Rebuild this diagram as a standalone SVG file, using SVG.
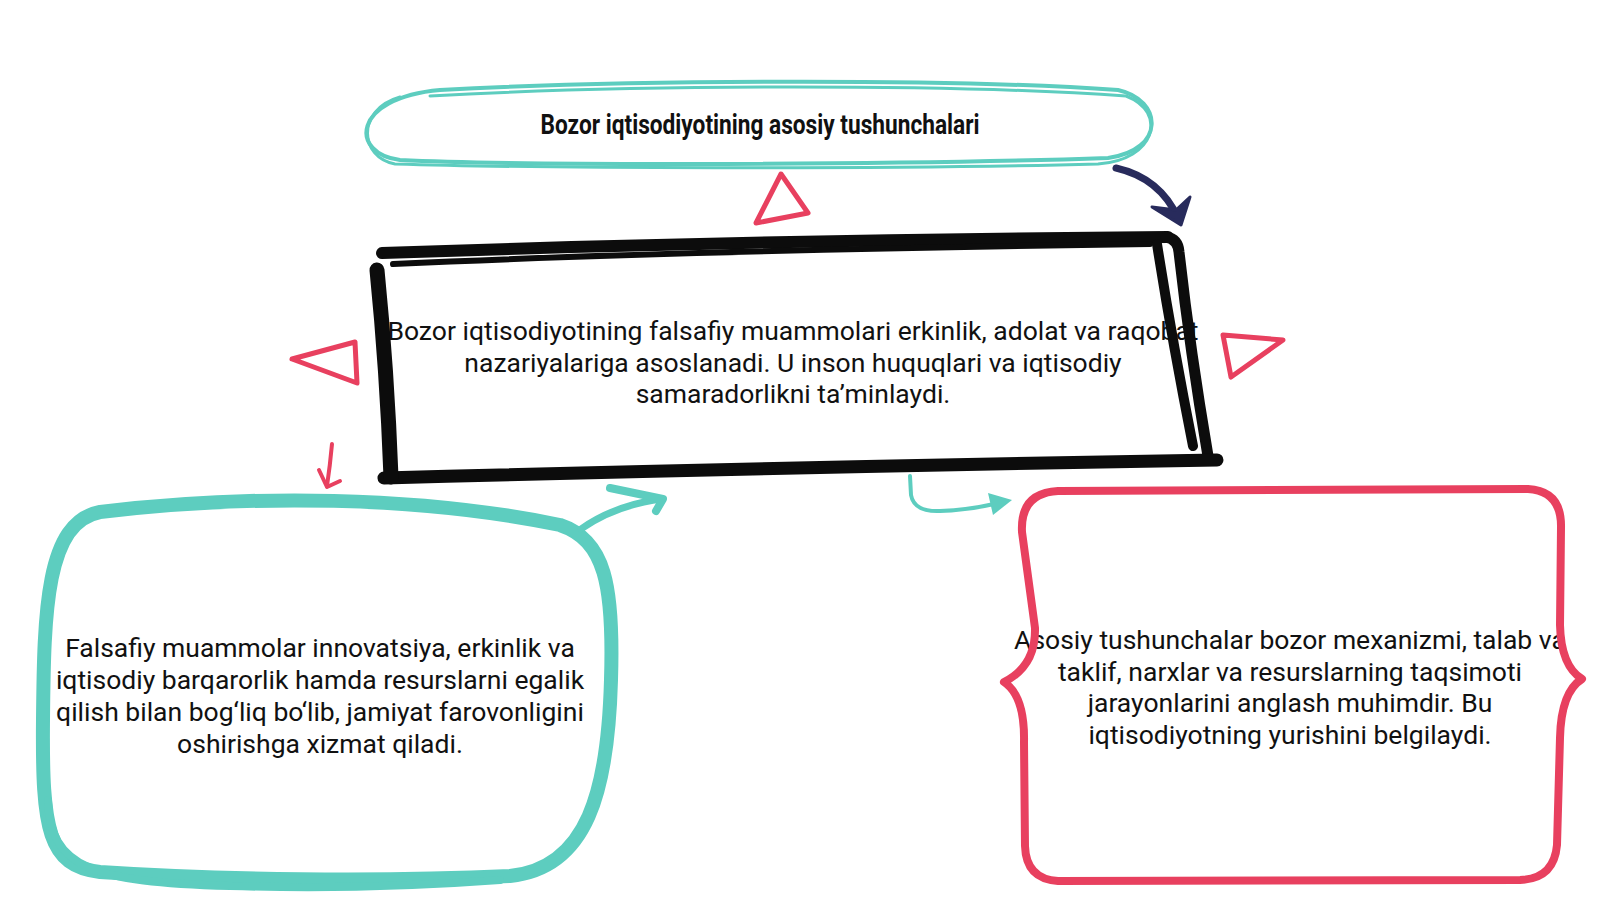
<svg xmlns="http://www.w3.org/2000/svg" width="1600" height="900" viewBox="0 0 1600 900">
<style>
.body{font-family:Roboto,"Liberation Sans",sans-serif;font-size:26.5px;fill:#111;text-anchor:middle}
.title{font-family:Roboto,"Liberation Sans",sans-serif;font-size:28px;font-weight:700;fill:#111;text-anchor:middle}
.teal{fill:none;stroke:#5dcdbf;stroke-linecap:round;stroke-linejoin:round}
.red{fill:none;stroke:#e8405f;stroke-linecap:round;stroke-linejoin:round}
.blk{fill:none;stroke:#0c0c0c;stroke-linecap:round;stroke-linejoin:round}
.navy{fill:none;stroke:#282b5c;stroke-linecap:round;stroke-linejoin:round}
</style>
<rect width="1600" height="900" fill="#ffffff"/>
<g id="title">
<path class="teal" stroke-width="4" d="M 440 90 C 620 80 950 78 1118 90 C 1163 100 1166 150 1108 158 C 910 165 520 166 400 160 C 350 154 350 98 440 90 Z"/>
<path class="teal" stroke-width="3" d="M 430 96 C 640 84 960 84 1126 96 C 1168 112 1156 160 1098 164 C 890 170 520 168 395 164 C 360 158 355 110 400 97"/>
<text class="title" x="760" y="134" textLength="439" lengthAdjust="spacingAndGlyphs">Bozor iqtisodiyotining asosiy tushunchalari</text>
</g>
<g id="center">
<text class="body" x="793" y="340">Bozor iqtisodiyotining falsafiy muammolari erkinlik, adolat va raqobat</text>
<text class="body" x="793" y="372">nazariyalariga asoslanadi. U inson huquqlari va iqtisodiy</text>
<text class="body" x="793" y="403">samaradorlikni ta’minlaydi.</text>
<path class="blk" stroke-width="12" d="M 382 253 Q 760 240 1168 237"/>
<path class="blk" stroke-width="6" d="M 393 264 Q 700 250 1150 244"/>
<path class="blk" stroke-width="11" d="M 1166 237 Q 1178 239 1179 252 Q 1190 350 1208 456"/>
<path class="blk" stroke-width="10" d="M 1157 244 Q 1172 340 1193 446"/>
<path class="blk" stroke-width="13" d="M 384 478 Q 800 467 1217 460"/>
<path class="blk" stroke-width="15" d="M 377 270 Q 387 370 391 477"/>
</g>
<g id="left">
<text class="body" x="320" y="657">Falsafiy muammolar innovatsiya, erkinlik va</text>
<text class="body" x="320" y="689">iqtisodiy barqarorlik hamda resurslarni egalik</text>
<text class="body" x="320" y="721">qilish bilan bog‘liq bo‘lib, jamiyat farovonligini</text>
<text class="body" x="320" y="753">oshirishga xizmat qiladi.</text>
<path class="teal" stroke-width="14" d="M 100 512 C 250 494 420 496 560 525 C 605 540 614 585 611 680 C 608 790 588 868 510 876 C 380 882 220 880 100 872 C 48 866 42 830 43 720 C 44 610 46 522 100 512 Z"/>
<path class="teal" stroke-width="8" d="M 48 800 C 50 868 92 882 230 886 C 330 889 420 886 500 880"/>
</g>
<g id="right">
<text class="body" x="1290" y="649">Asosiy tushunchalar bozor mexanizmi, talab va</text>
<text class="body" x="1290" y="681">taklif, narxlar va resurslarning taqsimoti</text>
<text class="body" x="1290" y="712">jarayonlarini anglash muhimdir. Bu</text>
<text class="body" x="1290" y="744">iqtisodiyotning yurishini belgilaydi.</text>
<path class="red" stroke-width="8" d="M 1058 491 L 1528 489 Q 1562 491 1561 528 L 1560 625 Q 1561 666 1582 679 Q 1561 692 1560 738 L 1557 845 Q 1554 879 1520 880 L 1058 881 Q 1026 879 1025 846 L 1024 742 Q 1025 696 1004 682 Q 1036 666 1035 628 L 1022 532 Q 1020 493 1058 491 Z"/>
</g>
<g id="connectors">
<polygon class="red" stroke-width="5" points="781,174 808,213 756,223"/>
<polygon class="red" stroke-width="5" points="292,359 355,342 357,383"/>
<polygon class="red" stroke-width="5" points="1223,335 1283,340 1231,377"/>
<path class="navy" stroke-width="7" d="M 1116 168 Q 1160 178 1178 218"/>
<polygon points="1152,207 1181,225 1190,197 1176,210" fill="#282b5c" stroke="#282b5c" stroke-width="3" stroke-linejoin="round"/>
<path class="red" stroke-width="4" d="M 332 444 Q 330 466 327 486"/>
<path class="red" stroke-width="4" d="M 319 470 L 327 487 L 340 481"/>
<path class="teal" stroke-width="7" d="M 581 529 Q 615 505 662 499"/>
<path class="teal" stroke-width="8" d="M 610 488 L 663 499 L 656 511"/>
<path class="teal" stroke-width="4" d="M 910 476 L 911 495 Q 914 512 940 511 Q 968 510 994 504"/>
<polygon points="988,493 1012,500 993,515" fill="#5dcdbf"/>
</g>
</svg>
